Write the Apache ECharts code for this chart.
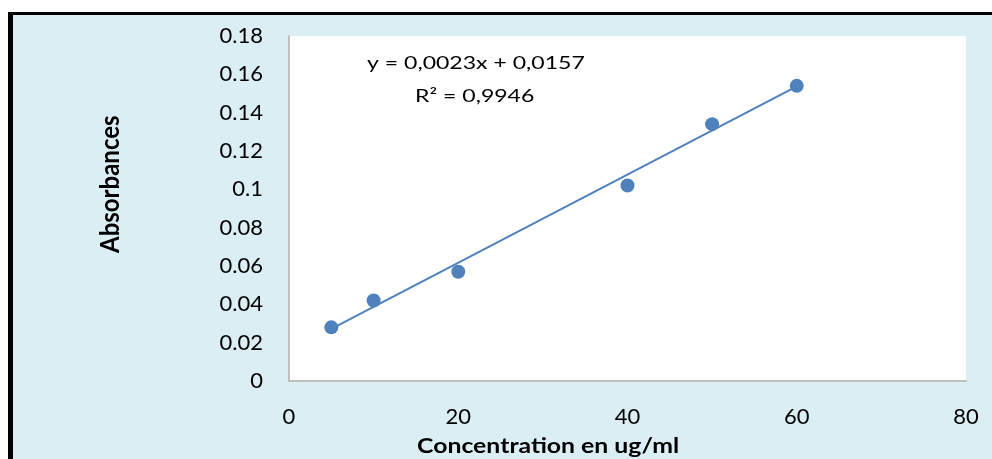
<!DOCTYPE html>
<html style="height: 100%">
  <head>
    <meta charset="utf-8" />
    <title>Absorbances</title>
    <script src="https://cdn.jsdelivr.net/npm/echarts@6/dist/echarts.min.js"></script>
  </head>
  <body style="height: 100%; margin: 0">
    <div id="container" style="width: 992px; height: 459px"></div>
    <script type="text/javascript">
      // concentration (ug/ml) and measured absorbance
      const concentrations = [5, 10, 20, 40, 50, 60];
      const absorbances = [0.028, 0.042, 0.057, 0.102, 0.134, 0.154];
      // linear trend shown on the chart
      const slope = 0.0023;
      const intercept = 0.0157;
      const trendRange = [5, 60];
      const equationLabel = "y = 0,0023x + 0,0157";
      const r2Label = "R² = 0,9946";

      const points = concentrations.map((c, i) => [c, absorbances[i]]);
      const trend = trendRange.map((x) => [x, slope * x + intercept]);

      const font = "Lato, 'Open Sans', sans-serif";
      const bg = "#dbeef4";

      // left-anchored text, vertically centred, stretched a bit horizontally
      function label(text, x, y, css, sx) {
        return {
          type: "text", x: x, y: y, scaleX: sx,
          style: { text: text, font: css, fill: "#000", align: "left", verticalAlign: "middle" },
        };
      }

      let chart = echarts.init(document.getElementById("container"));
      chart.setOption({
        backgroundColor: "#ffffff",
        animation: false,
        graphic: [
          // light blue chart area with black frame on left and top
          { type: "rect", z: -10, shape: { x: 13, y: 15, width: 979, height: 444 }, style: { fill: bg } },
          { type: "rect", z: -9, shape: { x: 8, y: 12, width: 5, height: 447 }, style: { fill: "#000" } },
          { type: "rect", z: -9, shape: { x: 8, y: 12, width: 984, height: 3 }, style: { fill: "#000" } },
          label("Concentration en ug/ml", 417, 447, "bold 20px " + font, 1.24),
          label(equationLabel, 367, 63, "18px " + font, 1.28),
          label(r2Label, 415, 96, "18px " + font, 1.28),
          {
            type: "text", x: 110, y: 253, rotation: Math.PI / 2, scaleY: 1.12,
            style: {
              text: "Absorbances", font: "bold 24px " + font, fill: "#000",
              align: "left", verticalAlign: "middle",
            },
          },
        ],
        grid: {
          left: 289, right: 26, top: 36, bottom: 78,
          show: true, backgroundColor: "#ffffff", borderWidth: 0,
        },
        xAxis: {
          type: "value", min: 0, max: 80, interval: 20,
          axisLine: { show: true, lineStyle: { color: "#bfbfbf", width: 2 } },
          axisTick: { show: false },
          splitLine: { show: false },
          axisLabel: { color: "#000", fontSize: 22, fontFamily: font, margin: 25 },
        },
        yAxis: {
          type: "value", min: 0, max: 0.18, interval: 0.02,
          axisLine: { show: true, lineStyle: { color: "#bfbfbf", width: 2 } },
          axisTick: { show: false },
          splitLine: { show: false },
          axisLabel: {
            color: "#000", fontSize: 22, fontFamily: font, margin: 26,
            formatter: (v) => String(+v.toFixed(2)),
          },
        },
        series: [
          {
            type: "line", data: trend, symbol: "none",
            lineStyle: { color: "#4f81bd", width: 2 }, z: 2,
          },
          {
            type: "scatter", data: points, symbolSize: 14,
            itemStyle: { color: "#4f81bd", opacity: 1 }, z: 3,
          },
        ],
      });
    </script>
  </body>
</html>
